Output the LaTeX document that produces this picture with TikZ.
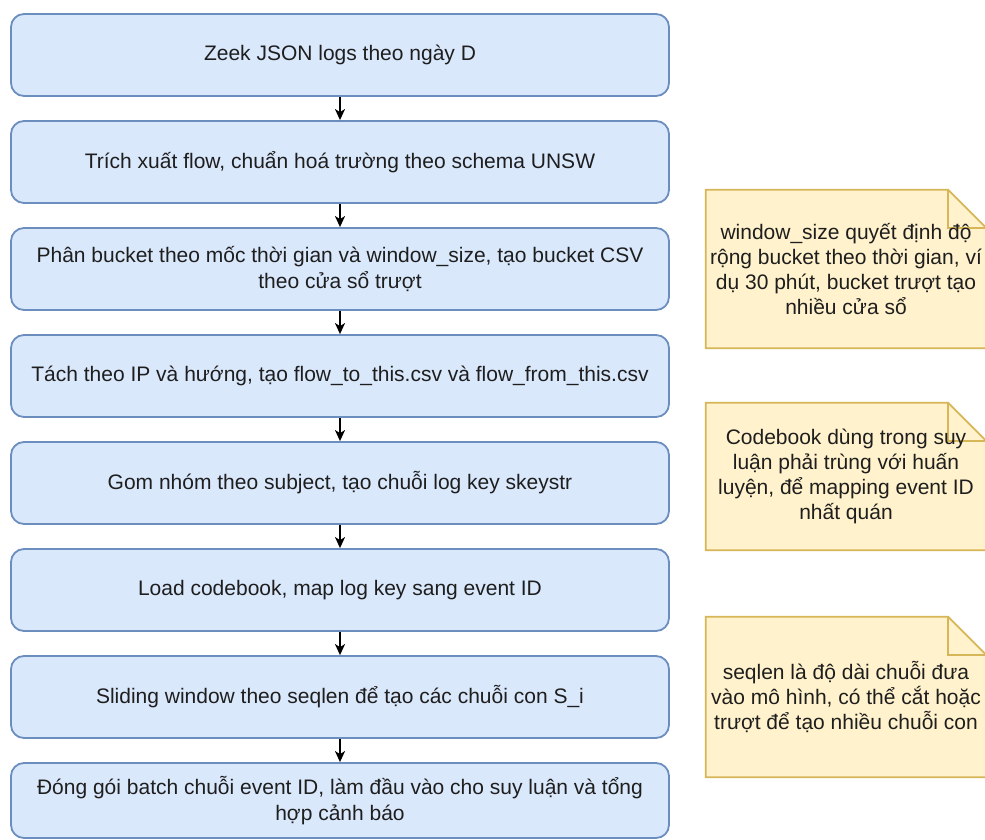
\documentclass[tikz,border=0pt]{standalone}
\usepackage{fontspec}
\setmainfont{Liberation Sans}
\usetikzlibrary{arrows.meta,backgrounds}

\definecolor{stepfill}{HTML}{DAE8FC}
\definecolor{stepline}{HTML}{6C8EBF}
\definecolor{notefill}{HTML}{FFF2CC}
\definecolor{noteline}{HTML}{D6B656}
\definecolor{inktext}{HTML}{1E1E1E}

\tikzset{
  stepbox/.style={draw=stepline, fill=stepfill, line width=1.8pt,
    rounded corners=13pt, minimum width=658pt, minimum height=82pt,
    align=center, text=inktext, inner sep=0pt,
    font=\fontsize{21}{26}\selectfont},
  notetext/.style={minimum width=280pt, minimum height=158pt,
    align=center, text=inktext, inner sep=0pt,
    font=\fontsize{21}{25}\selectfont},
  noteshape/.style={draw=noteline, fill=notefill, line width=1.8pt,
    line join=miter},
  notefold/.style={draw=noteline, line width=1.8pt},
  flow/.style={draw=black, line width=1.8pt,
    -{Stealth[length=11pt, width=10pt, inset=3pt]}},
}

\begin{document}
\begin{tikzpicture}[x=1pt, y=-1pt]
\useasboundingbox (0,0) rectangle (985,840);
\clip (0,0) rectangle (985,840);

% processing steps, top to bottom
\node[stepbox] (b1) at (340,55) {Zeek JSON logs theo ngày D};
\node[stepbox] (b2) at (340,162) {Trích xuất flow, chuẩn hoá trường theo schema UNSW};
\node[stepbox] (b3) at (340,269) {Phân bucket theo mốc thời gian và window\_size, tạo bucket CSV\\theo cửa sổ trượt};
\node[stepbox] (b4) at (340,376) {Tách theo IP và hướng, tạo flow\_to\_this.csv và flow\_from\_this.csv};
\node[stepbox] (b5) at (340,483) {Gom nhóm theo subject, tạo chuỗi log key skeystr};
\node[stepbox] (b6) at (340,590) {Load codebook, map log key sang event ID};
\node[stepbox] (b7) at (340,697) {Sliding window theo seqlen để tạo các chuỗi con S\_i};
\node[stepbox, minimum height=75pt] (b8) at (340,800.5) {Đóng gói batch chuỗi event ID, làm đầu vào cho suy luận và tổng\\hợp cảnh báo};

% connectors
\draw[flow] (b1) -- (b2);
\draw[flow] (b2) -- (b3);
\draw[flow] (b3) -- (b4);
\draw[flow] (b4) -- (b5);
\draw[flow] (b5) -- (b6);
\draw[flow] (b6) -- (b7);
\draw[flow] (b7) -- (b8);

% side notes
\node[notetext] (n1) at (846,269) {window\_size quyết định độ\\rộng bucket theo thời gian, ví\\dụ 30 phút, bucket trượt tạo\\nhiều cửa sổ};
\node[notetext, minimum height=147pt] (n2) at (846,476.5) {Codebook dùng trong suy\\luận phải trùng với huấn\\luyện, để mapping event ID\\nhất quán};
\node[notetext, minimum height=160pt] (n3) at (846,697) {seqlen là độ dài chuỗi đưa\\vào mô hình, có thể cắt hoặc\\trượt để tạo nhiều chuỗi con};

% folded-corner outlines behind the note texts
\begin{scope}[on background layer]
  \fill[white] (0,0) rectangle (985,840);
  \foreach \n in {n1,n2,n3} {
    \path[noteshape] (\n.north west) -- ([xshift=-38pt]\n.north east)
      -- ([yshift=-38pt]\n.north east) -- (\n.south east)
      -- (\n.south west) -- cycle;
    \path[notefold] ([xshift=-38pt]\n.north east)
      |- ([yshift=-38pt]\n.north east);
  }
\end{scope}
\end{tikzpicture}
\end{document}
